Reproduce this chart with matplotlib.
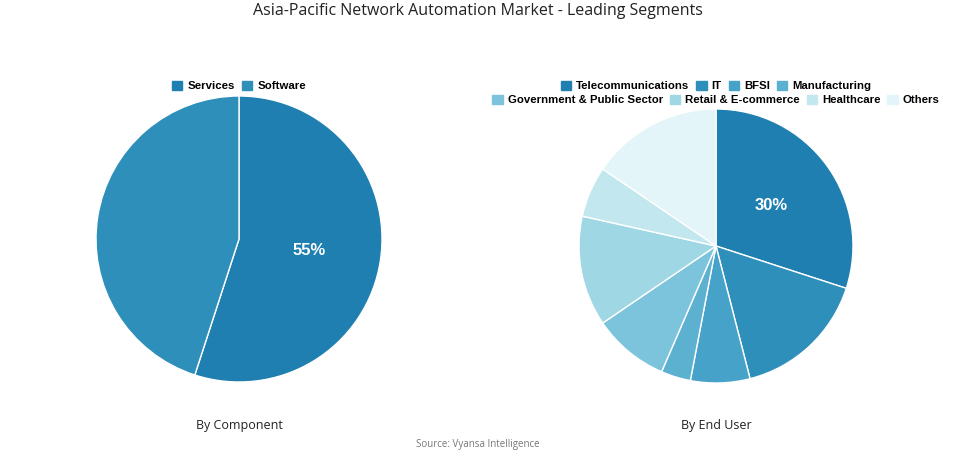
import matplotlib.pyplot as plt

comp_labels = ['Services', 'Software']
comp_values = [55, 45]
comp_colors = ['#1f7fb0', '#2e8fbb']

user_labels = ['Telecommunications', 'IT', 'BFSI', 'Manufacturing',
               'Government & Public Sector', 'Retail & E-commerce', 'Healthcare', 'Others']
user_values = [30, 16, 7, 3.5, 9, 13, 6, 15.5]
user_colors = ['#1f7fb0', '#2e8fbb', '#46a2c8', '#5cb1d1',
               '#7cc4dc', '#a0d7e5', '#c3e7ef', '#e3f5f9']

W, H = 955, 454
fig = plt.figure(figsize=(W / 100, H / 100), dpi=100)


def pie_axes(cx, cy, r):
    return fig.add_axes([(cx - r) / W, (H - cy - r) / H, 2 * r / W, 2 * r / H])


def draw_pie(ax, values, colors):
    # only the biggest (first) slice gets a % label
    shown = [True]

    def fmt(p):
        if shown[0]:
            shown[0] = False
            return f'{p:.0f}%'
        return ''
    ax.pie(values, colors=colors, startangle=90, counterclock=False,
           autopct=fmt, pctdistance=0.5,
           wedgeprops=dict(edgecolor='white', linewidth=1),
           textprops=dict(color='white', fontsize=12, fontweight='bold',
                          family='Liberation Sans'))
    ax.set_xlim(-1, 1)
    ax.set_ylim(-1, 1)
    ax.set_aspect('equal')
    ax.axis('off')


ax1 = pie_axes(239, 239, 143)
draw_pie(ax1, comp_values, comp_colors)
ax2 = pie_axes(716, 246, 137)
draw_pie(ax2, user_values, user_colors)

fig.text(0.5, 1 - 11 / H, 'Asia-Pacific Network Automation Market - Leading Segments',
         ha='center', va='center', fontsize=11.5, family='Open Sans', color='#222222')
fig.text(239 / W, 1 - 425 / H, 'By Component', ha='center', va='center',
         fontsize=9, family='Open Sans', color='#222222')
fig.text(716 / W, 1 - 425 / H, 'By End User', ha='center', va='center',
         fontsize=9, family='Open Sans', color='#222222')
fig.text(0.5, 1 - 444 / H, 'Source: Vyansa Intelligence', ha='center', va='center',
         fontsize=7, family='Open Sans', color='#777777')

leg_kw = dict(frameon=False, handlelength=0.9, handleheight=0.9, handletextpad=0.45,
              columnspacing=0.6, borderpad=0, borderaxespad=0,
              prop=dict(family='Liberation Sans', weight='bold', size=8.2))


def patches(cols):
    return [plt.Rectangle((0, 0), 1, 1, color=c) for c in cols]


fig.legend(patches(comp_colors), comp_labels, loc='center', ncol=2,
           bbox_to_anchor=(239 / W, 1 - 86 / H), **leg_kw)
fig.legend(patches(user_colors[:4]), user_labels[:4], loc='center', ncol=4,
           bbox_to_anchor=(716 / W, 1 - 86 / H), **leg_kw)
fig.legend(patches(user_colors[4:]), user_labels[4:], loc='center', ncol=4,
           bbox_to_anchor=(716 / W, 1 - 100 / H), **leg_kw)

fig.savefig('out.png', dpi=100, facecolor='white')
